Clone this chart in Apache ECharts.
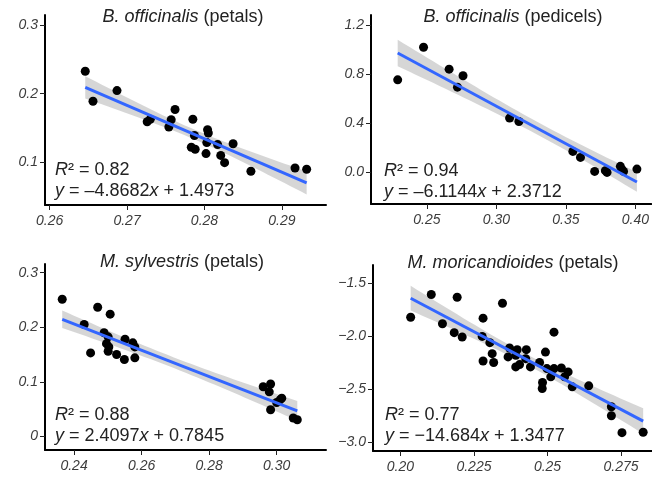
<!DOCTYPE html>
<html>
<head>
<meta charset="utf-8">
<title>Regressions</title>
<script src="https://cdn.jsdelivr.net/npm/echarts@6/dist/echarts.min.js"></script>
<style>
  html, body { margin: 0; padding: 0; background: #fff; }
  #main { width: 652px; height: 480px; }
</style>
</head>
<body>
<div id="main"></div>
<script>
// --- data ---
// B. officinalis (petals)
var p1x = [0.2646, 0.2656, 0.2687, 0.2726, 0.2730, 0.2754, 0.2757, 0.2762, 0.2785, 0.2787, 0.2783, 0.2788,
           0.2802, 0.2804, 0.2805, 0.2803, 0.2817, 0.2821, 0.2826, 0.2837, 0.2860, 0.2917, 0.2932];
var p1y = [0.2327, 0.189, 0.2045, 0.159, 0.1627, 0.1515, 0.162, 0.177, 0.1627, 0.139, 0.122, 0.119,
           0.1127, 0.1476, 0.1427, 0.1287, 0.1258, 0.110, 0.0995, 0.127, 0.087, 0.0917, 0.0898];
// B. officinalis (pedicels)
var p2x = [0.229, 0.2476, 0.266, 0.276, 0.272, 0.3095, 0.3162, 0.355, 0.3605, 0.3707, 0.3784, 0.3796,
           0.3892, 0.3904, 0.3915, 0.4011];
var p2y = [0.752, 1.018, 0.839, 0.785, 0.692, 0.440, 0.412, 0.168, 0.119, 0.005, 0.011, -0.003,
           0.046, 0.019, 0.005, 0.024];
// M. sylvestris (petals)
var p3x = [0.2365, 0.2430, 0.2449, 0.2470, 0.2489, 0.2507, 0.2501, 0.2496, 0.2503, 0.2501, 0.2526, 0.2551,
           0.2549, 0.2574, 0.2580, 0.2580, 0.2960, 0.2982, 0.2978, 0.2982, 0.3000, 0.3015, 0.3010, 0.3049, 0.3061];
var p3y = [0.2513, 0.205, 0.153, 0.2367, 0.190, 0.224, 0.1825, 0.170, 0.164, 0.156, 0.150, 0.178,
           0.141, 0.1715, 0.164, 0.144, 0.091, 0.096, 0.0816, 0.0487, 0.062, 0.070, 0.067, 0.0336, 0.0305];
// M. moricandioides (petals)
var p4x = [0.2035, 0.2105, 0.2143, 0.2193, 0.2183, 0.2210, 0.2281, 0.2278, 0.2281, 0.2304, 0.2312, 0.2317,
           0.2347, 0.2366, 0.2371, 0.2392, 0.2397, 0.2392, 0.2405, 0.2426, 0.2428, 0.2442, 0.2473, 0.2483,
           0.2482, 0.2493, 0.2498, 0.2511, 0.2522, 0.2522, 0.2547, 0.2558, 0.2570, 0.2584, 0.2640, 0.2717,
           0.2717, 0.2753, 0.2825];
var p4y = [-1.820, -1.606, -1.882, -1.632, -1.966, -2.007, -1.829, -2.001, -2.233, -2.060, -2.164, -2.248,
           -1.688, -2.195, -2.111, -2.180, -2.126, -2.289, -2.267, -2.211, -2.126, -2.289, -2.248, -2.436,
           -2.493, -2.149, -2.305, -2.383, -1.961, -2.305, -2.299, -2.383, -2.336, -2.477, -2.468, -2.665,
           -2.750, -2.910, -2.906];

// fitted coefficients (slope, intercept) as drawn
var slopes = [-4.8682, -6.1144, -2.4097, -14.684];
var intercepts = [1.4973, 2.3712, 0.7845, 1.3477];
var tCrit = [2.080, 2.145, 2.069, 2.026];

var titles = ['{i|B. officinalis} (petals)', '{i|B. officinalis} (pedicels)',
              '{i|M. sylvestris} (petals)', '{i|M. moricandioides} (petals)'];
var r2Text = ['0.82', '0.94', '0.88', '0.77'];
var eqText = ['{i|y} = \u20134.8682{i|x} + 1.4973', '{i|y} = \u20136.1144{i|x} + 2.3712',
              '{i|y} = 2.4097{i|x} + 0.7845', '{i|y} = \u221214.684{i|x} + 1.3477'];

// tick values and labels
var xTicks = [[0.26, 0.27, 0.28, 0.29], [0.25, 0.30, 0.35, 0.40], [0.24, 0.26, 0.28, 0.30], [0.20, 0.225, 0.25, 0.275]];
var xTickLabels = [['0.26', '0.27', '0.28', '0.29'], ['0.25', '0.30', '0.35', '0.40'],
                   ['0.24', '0.26', '0.28', '0.30'], ['0.20', '0.225', '0.25', '0.275']];
var yTicks = [[0.1, 0.2, 0.3], [0.0, 0.4, 0.8, 1.2], [0, 0.1, 0.2, 0.3], [-3.0, -2.5, -2.0, -1.5]];
var yTickLabels = [['0.1', '0.2', '0.3'], ['0.0', '0.4', '0.8', '1.2'], ['0', '0.1', '0.2', '0.3'],
                   ['\u22123.0', '\u22122.5', '\u22122.0', '\u22121.5']];

// --- layout ---
var FONT = '"Liberation Sans", Arial, sans-serif';
var grids = [
  {left: 45, top: 15, width: 281, height: 190},
  {left: 371, top: 15, width: 281, height: 189},
  {left: 45, top: 264, width: 281, height: 186},
  {left: 373, top: 265, width: 279, height: 186}
];
var xRange = [[0.2594, 0.2957], [0.2098, 0.4114], [0.2314, 0.3146], [0.1907, 0.2855]];
var yRange = [[0.0378, 0.3146], [-0.261, 1.281], [-0.025, 0.316], [-3.083, -1.327]];
var titlePos = [[183, 17], [513, 17], [182, 262], [513, 263]];
var notePos = [[55, 170], [384, 171], [55, 415], [385, 415]];

var xs = [p1x, p2x, p3x, p4x];
var ys = [p1y, p2y, p3y, p4y];

function lookup(vals, labels) {
  return function (v) {
    for (var i = 0; i < vals.length; i++) {
      if (Math.abs(vals[i] - v) < 1e-9) return labels[i];
    }
    return '';
  };
}

// 95% confidence band of the fitted line
function band(x, y, b, a, t) {
  var n = x.length, xbar = 0, sxx = 0, sse = 0, upper = [], lower = [];
  for (var i = 0; i < n; i++) xbar += x[i] / n;
  for (var i = 0; i < n; i++) {
    sxx += (x[i] - xbar) * (x[i] - xbar);
    var r = y[i] - (a + b * x[i]);
    sse += r * r;
  }
  var s2 = sse / (n - 2);
  var x0 = Math.min.apply(null, x), x1 = Math.max.apply(null, x);
  for (var k = 0; k <= 40; k++) {
    var xv = x0 + (x1 - x0) * k / 40;
    var se = Math.sqrt(s2 * (1 / n + (xv - xbar) * (xv - xbar) / sxx));
    upper.push([xv, a + b * xv + t * se]);
    lower.unshift([xv, a + b * xv - t * se]);
  }
  return {poly: upper.concat(lower), x0: x0, x1: x1};
}

var xAxes = [], yAxes = [], series = [], graphics = [];
var rich = {i: {fontStyle: 'italic', fontSize: 18, fontFamily: FONT, fill: '#222'}};

for (var p = 0; p < 4; p++) {
  xAxes.push({
    type: 'value', gridIndex: p, min: xRange[p][0], max: xRange[p][1],
    splitLine: {show: false},
    axisLine: {show: true, onZero: false, lineStyle: {color: '#000', width: 2}},
    axisTick: {show: true, length: 5, customValues: xTicks[p], lineStyle: {color: '#222', width: 1}},
    axisLabel: {customValues: xTicks[p], formatter: lookup(xTicks[p], xTickLabels[p]),
                fontStyle: 'italic', fontSize: 14, fontFamily: FONT, color: '#3c3c3c', margin: 9}
  });
  yAxes.push({
    type: 'value', gridIndex: p, min: yRange[p][0], max: yRange[p][1],
    splitLine: {show: false},
    axisLine: {show: true, onZero: false, lineStyle: {color: '#000', width: 2}},
    axisTick: {show: true, length: 5, customValues: yTicks[p], lineStyle: {color: '#222', width: 1}},
    axisLabel: {customValues: yTicks[p], formatter: lookup(yTicks[p], yTickLabels[p]),
                fontStyle: 'italic', fontSize: 14, fontFamily: FONT, color: '#3c3c3c', margin: 7}
  });

  var pts = xs[p].map(function (v, i) { return [v, ys[p][i]]; });
  var bd = band(xs[p], ys[p], slopes[p], intercepts[p], tCrit[p]);
  var fit0 = intercepts[p] + slopes[p] * bd.x0, fit1 = intercepts[p] + slopes[p] * bd.x1;

  series.push({
    type: 'scatter', xAxisIndex: p, yAxisIndex: p, data: pts,
    symbolSize: 9, itemStyle: {color: '#000', opacity: 1}, silent: true
  });
  series.push({
    type: 'custom', xAxisIndex: p, yAxisIndex: p, coordinateSystem: 'cartesian2d',
    data: [[bd.x0, fit0]], silent: true, clip: false,
    renderItem: (function (poly) {
      return function (params, api) {
        return {
          type: 'polygon',
          shape: {points: poly.map(function (q) { return api.coord(q); })},
          style: {fill: 'rgba(153,153,153,0.4)'}
        };
      };
    })(bd.poly)
  });
  series.push({
    type: 'line', xAxisIndex: p, yAxisIndex: p,
    data: [[bd.x0, fit0], [bd.x1, fit1]],
    symbol: 'none', lineStyle: {color: '#3366FF', width: 3}, silent: true
  });

  graphics.push({
    type: 'text', x: titlePos[p][0], y: titlePos[p][1],
    style: {text: titles[p], rich: rich, fontSize: 18, fontFamily: FONT, fill: '#222',
            align: 'center', verticalAlign: 'middle', textAlign: 'center', textVerticalAlign: 'middle'}
  });
  graphics.push({
    type: 'text', x: notePos[p][0], y: notePos[p][1],
    style: {text: '{i|R}\u00b2 = ' + r2Text[p], rich: rich, fontSize: 18, fontFamily: FONT, fill: '#222',
            align: 'left', verticalAlign: 'middle', textAlign: 'left', textVerticalAlign: 'middle'}
  });
  graphics.push({
    type: 'text', x: notePos[p][0], y: notePos[p][1] + 21,
    style: {text: eqText[p], rich: rich, fontSize: 18, fontFamily: FONT, fill: '#222',
            align: 'left', verticalAlign: 'middle', textAlign: 'left', textVerticalAlign: 'middle'}
  });
}

var chart = echarts.init(document.getElementById('main'));
chart.setOption({
  animation: false,
  backgroundColor: '#fff',
  grid: grids,
  xAxis: xAxes,
  yAxis: yAxes,
  series: series,
  graphic: graphics
});
</script>
</body>
</html>
